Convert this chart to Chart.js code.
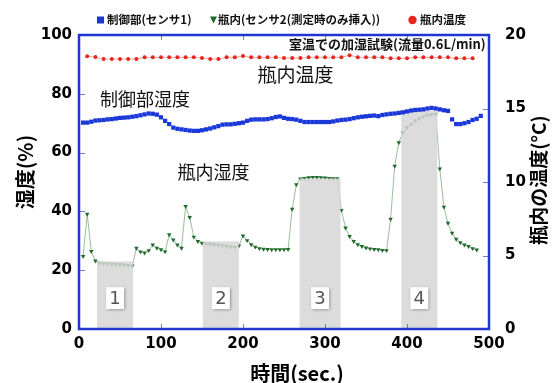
<!DOCTYPE html>
<html>
<head>
<meta charset="utf-8">
<script src="https://cdn.jsdelivr.net/npm/chart.js@4.4.0/dist/chart.umd.min.js"></script>
<style>
  html, body { margin: 0; padding: 0; background: #fff; }
  #wrap { width: 553px; height: 383px; }
</style>
</head>
<body>
<div id="wrap"><canvas id="c" width="553" height="383"></canvas></div>
<script>
// Sampling times (sec) for the two humidity sensors
const sampleTimes = [
  5, 10, 15, 20, 25, 30, 35, 40, 45, 50,
  55, 60, 65, 70, 75, 80, 85, 90, 95, 100,
  105, 110, 115, 120, 125, 130, 135, 140, 145, 150,
  155, 160, 165, 170, 175, 180, 185, 190, 195, 200,
  205, 210, 215, 220, 225, 230, 235, 240, 245, 250,
  255, 260, 265, 270, 275, 280, 285, 290, 295, 300,
  305, 310, 315, 320, 325, 330, 335, 340, 345, 350,
  355, 360, 365, 370, 375, 380, 385, 390, 395, 400,
  405, 410, 415, 420, 425, 430, 435, 440, 445, 450,
  455, 460, 465, 470, 475, 480, 485, 490
];

// Humidity at the controller (sensor 1), %
const controlHumidity = [
  70.2, 70.2, 70.5, 70.9, 71.0, 71.1, 71.3, 71.4, 71.6, 71.8,
  71.9, 72.0, 72.2, 72.4, 72.7, 73.0, 73.3, 73.2, 72.9, 72.0,
  70.8, 69.7, 68.5, 68.1, 67.9, 67.7, 67.5, 67.4, 67.4, 67.6,
  67.9, 68.2, 68.6, 69.0, 69.5, 69.6, 69.6, 69.8, 70.0, 70.2,
  70.8, 71.2, 71.3, 71.3, 71.3, 71.4, 71.7, 72.1, 72.3, 71.8,
  71.5, 71.4, 71.2, 70.8, 70.4, 70.4, 70.4, 70.4, 70.4, 70.4,
  70.4, 70.6, 70.9, 71.1, 71.2, 71.4, 71.7, 72.0, 72.2, 72.35,
  72.5, 72.6, 72.4, 72.8, 73.0, 73.2, 73.3, 73.5, 73.7, 74.0,
  74.3, 74.5, 74.6, 74.7, 75.0, 75.2, 75.0, 74.7, 74.4, 74.2,
  71.3, 69.7, 69.7, 70.0, 70.4, 71.1, 71.5, 72.5
];

// Humidity inside the bottle (sensor 2), %  — times 5..485
const bottleHumidity = [
  24.7, 39.1, 26.4, 23.2, 22.4, 22.3, 22.2, 22.1, 22.0, 21.9,
  21.8, 21.7, 21.5, 27.5, 26.3, 25.9, 26.7, 28.6, 27.5, 27.0,
  26.3, 32.1, 30.3, 28.6, 27.5, 41.7, 38.0, 31.3, 29.8, 29.2,
  29.0, 28.9, 28.7, 28.6, 28.4, 28.2, 28.0, 27.8, 28.3, 31.7,
  30.1, 28.7, 27.9, 27.4, 27.2, 27.1, 27.0, 27.0, 27.0, 27.0,
  27.1, 40.8, 49.1, 51.1, 51.3, 51.5, 51.6, 51.6, 51.5, 51.4,
  51.3, 51.2, 51.2, 40.4, 34.4, 31.5, 29.8, 28.7, 28.1, 27.6,
  27.3, 27.1, 27.0, 26.8, 26.7, 37.4, 55.4, 63.4, 66.8, 68.5,
  69.6, 70.8, 71.6, 72.2, 72.7, 72.9, 73.1, 54.5, 41.5, 36.0,
  32.6, 30.6, 29.4, 28.6, 28.1, 27.4, 26.9
];

// Temperature inside the bottle, °C
const tempTimes = [
  10, 20, 30, 40, 50, 60, 70, 80, 90, 100,
  110, 120, 130, 140, 150, 160, 170, 180, 190, 200,
  210, 220, 230, 240, 250, 260, 270, 280, 290, 300,
  310, 320, 330, 340, 350, 360, 370, 380, 390, 400,
  410, 420, 430, 440, 450, 460, 470, 480
];
const bottleTemp = [
  18.55, 18.50, 18.36, 18.36, 18.36, 18.36, 18.36, 18.48, 18.48, 18.48,
  18.48, 18.48, 18.48, 18.48, 18.43, 18.36, 18.36, 18.48, 18.48, 18.57,
  18.48, 18.48, 18.48, 18.48, 18.43, 18.43, 18.43, 18.48, 18.48, 18.48,
  18.48, 18.48, 18.63, 18.48, 18.48, 18.48, 18.48, 18.41, 18.41, 18.41,
  18.48, 18.48, 18.48, 18.48, 18.48, 18.41, 18.41, 18.41
];

// Sensor-2 insertion windows (sec) and the humidity level reached (%)
const windowStart = [22, 151, 269, 393];
const windowEnd   = [66, 195, 319, 437];
const windowLevel = [23.0, 29.8, 51.2, 74.2];
const windowLabel = ['1', '2', '3', '4'];

// Axis ticks
const xTicks = [0, 100, 200, 300, 400, 500];
const humidityTicks = [0, 20, 40, 60, 80, 100];
const tempTicks = [0, 5, 10, 15, 20];

const seriesNames = ['制御部(センサ1)', '瓶内(センサ2(測定時のみ挿入))', '瓶内温度'];

const NUM_FONT = '"DejaVu Sans", "Noto Sans CJK JP", sans-serif';
const JP_FONT = '"Noto Sans CJK JP", "DejaVu Sans", sans-serif';
const BLUE = '#1a37da';
const GREEN = '#1f6a2c';
const RED = '#e8261b';
const AXIS = '#1f36d3';

const toXY = (xs, ys) => ys.map((v, i) => ({ x: xs[i], y: v }));

const decorations = {
  id: 'decorations',
  afterDatasetDraw(chart, args) {
    if (args.index !== 1) return;
    const { ctx, scales: { x, y } } = chart;
    ctx.save();
    for (let i = 0; i < windowStart.length; i++) {
      const x0 = x.getPixelForValue(windowStart[i]);
      const x1 = x.getPixelForValue(windowEnd[i]);
      const yt = y.getPixelForValue(windowLevel[i]);
      const yb = y.getPixelForValue(0);
      ctx.fillStyle = 'rgba(214,214,214,0.85)';
      ctx.fillRect(x0, yt, x1 - x0, yb - yt);
    }
    for (let i = 0; i < windowStart.length; i++) {
      const cx = (x.getPixelForValue(windowStart[i]) + x.getPixelForValue(windowEnd[i])) / 2;
      const cy = y.getPixelForValue(10.5);
      ctx.save();
      ctx.shadowColor = 'rgba(0,0,0,0.45)';
      ctx.shadowBlur = 3;
      ctx.shadowOffsetX = 1;
      ctx.shadowOffsetY = 1;
      ctx.fillStyle = '#ffffff';
      ctx.fillRect(cx - 9, cy - 11, 18, 22);
      ctx.restore();
      ctx.fillStyle = '#555555';
      ctx.font = '18px ' + NUM_FONT;
      ctx.textAlign = 'center';
      ctx.textBaseline = 'middle';
      ctx.fillText(windowLabel[i], cx, cy + 1);
    }
    ctx.restore();
  },
  afterDraw(chart) {
    const { ctx, chartArea: a, scales: { x, y, y2 } } = chart;
    ctx.save();
    // inner tick marks
    ctx.strokeStyle = 'rgba(70,90,225,0.8)';
    ctx.lineWidth = 1;
    ctx.beginPath();
    xTicks.slice(1, -1).forEach(v => {
      const px = Math.round(x.getPixelForValue(v)) + 0.5;
      ctx.moveTo(px, a.bottom); ctx.lineTo(px, a.bottom - 5);
      ctx.moveTo(px, a.top); ctx.lineTo(px, a.top + 5);
    });
    humidityTicks.slice(1, -1).forEach(v => {
      const py = Math.round(y.getPixelForValue(v)) + 0.5;
      ctx.moveTo(a.left, py); ctx.lineTo(a.left + 6, py);
    });
    tempTicks.slice(1, -1).forEach(v => {
      const py = Math.round(y2.getPixelForValue(v)) + 0.5;
      ctx.moveTo(a.right, py); ctx.lineTo(a.right - 6, py);
    });
    ctx.stroke();
    // frame
    ctx.strokeStyle = AXIS;
    ctx.lineWidth = 2.5;
    ctx.strokeRect(a.left, a.top, a.right - a.left, a.bottom - a.top);

    // in-plot labels
    ctx.fillStyle = '#111';
    ctx.textBaseline = 'middle';
    ctx.textAlign = 'right';
    ctx.font = 'bold 13px ' + JP_FONT;
    ctx.fillText('室温での加湿試験(流量0.6L/min)', x.getPixelForValue(496), y.getPixelForValue(96.9));
    ctx.textAlign = 'center';
    ctx.font = '19px ' + JP_FONT;
    ctx.fillText('瓶内温度', x.getPixelForValue(264), y.getPixelForValue(86.3));
    ctx.textAlign = 'left';
    ctx.font = '18px ' + JP_FONT;
    ctx.fillText('制御部湿度', x.getPixelForValue(25.7), y.getPixelForValue(78.2));
    ctx.fillText('瓶内湿度', x.getPixelForValue(120), y.getPixelForValue(53.2));

    // axis titles
    ctx.fillStyle = '#000';
    ctx.font = 'bold 20px ' + JP_FONT;
    ctx.textAlign = 'center';
    ctx.fillText('時間(sec.)', 297, 373);
    ctx.save();
    ctx.translate(25, 172);
    ctx.rotate(-Math.PI / 2);
    ctx.fillText('湿度(%)', 0, 0);
    ctx.restore();
    ctx.save();
    ctx.translate(539, 180);
    ctx.rotate(-Math.PI / 2);
    ctx.font = 'bold 19px ' + JP_FONT;
    ctx.fillText('瓶内の温度(°C)', 0, 0);
    ctx.restore();

    // legend
    const ly = 20;
    ctx.font = 'bold 11.5px ' + JP_FONT;
    ctx.textAlign = 'left';
    ctx.fillStyle = BLUE;
    ctx.fillRect(97, ly - 3.5, 7, 7);
    ctx.fillStyle = '#111';
    ctx.fillText(seriesNames[0], 107, ly);
    ctx.fillStyle = GREEN;
    ctx.beginPath();
    ctx.moveTo(210, ly - 3.5); ctx.lineTo(217, ly - 3.5); ctx.lineTo(213.5, ly + 3.5); ctx.closePath();
    ctx.fill();
    ctx.fillStyle = '#111';
    ctx.fillText(seriesNames[1], 218, ly);
    ctx.fillStyle = RED;
    ctx.beginPath();
    ctx.arc(412.5, ly, 4.2, 0, Math.PI * 2);
    ctx.fill();
    ctx.fillStyle = '#111';
    ctx.fillText(seriesNames[2], 420, ly);
    ctx.restore();
  }
};

const tickFont = { family: NUM_FONT, size: 15, weight: 'bold' };

new Chart(document.getElementById('c'), {
  type: 'line',
  data: {
    datasets: [
      {
        label: seriesNames[0],
        data: toXY(sampleTimes, controlHumidity),
        yAxisID: 'y',
        showLine: false,
        pointStyle: 'rect',
        pointRadius: 3,
        pointBackgroundColor: BLUE,
        pointBorderWidth: 0,
        borderColor: BLUE
      },
      {
        label: seriesNames[1],
        data: toXY(sampleTimes, bottleHumidity),
        yAxisID: 'y',
        borderColor: 'rgba(120,170,120,0.75)',
        borderWidth: 1,
        pointStyle: 'triangle',
        pointRotation: 180,
        pointRadius: 2.6,
        pointBackgroundColor: GREEN,
        pointBorderWidth: 0,
        tension: 0
      },
      {
        label: seriesNames[2],
        data: toXY(tempTimes, bottleTemp),
        yAxisID: 'y2',
        borderColor: 'rgba(232,90,80,0.55)',
        borderWidth: 1,
        pointStyle: 'circle',
        pointRadius: 2,
        pointBackgroundColor: RED,
        pointBorderWidth: 0,
        tension: 0
      }
    ]
  },
  options: {
    responsive: false,
    animation: false,
    events: [],
    layout: { padding: { top: 35, left: 0, right: 0, bottom: 0 } },
    plugins: { legend: { display: false }, tooltip: { enabled: false } },
    scales: {
      x: {
        type: 'linear',
        min: 0, max: 500,
        afterBuildTicks: s => { s.ticks = xTicks.map(v => ({ value: v })); },
        ticks: { font: tickFont, color: '#000', padding: 6 },
        grid: { display: false, drawTicks: false },
        border: { display: false },
        afterFit: s => { s.height = 54; }
      },
      y: {
        position: 'left',
        min: 0, max: 100,
        afterBuildTicks: s => { s.ticks = humidityTicks.map(v => ({ value: v })); },
        ticks: { font: tickFont, color: '#000', padding: 7 },
        grid: { display: false, drawTicks: false },
        border: { display: false },
        afterFit: s => { s.width = 79; }
      },
      y2: {
        position: 'right',
        min: 0, max: 20,
        afterBuildTicks: s => { s.ticks = tempTicks.map(v => ({ value: v })); },
        ticks: { font: tickFont, color: '#000', padding: 16 },
        grid: { display: false, drawTicks: false },
        border: { display: false },
        afterFit: s => { s.width = 64; }
      }
    }
  },
  plugins: [decorations]
});
</script>
</body>
</html>
